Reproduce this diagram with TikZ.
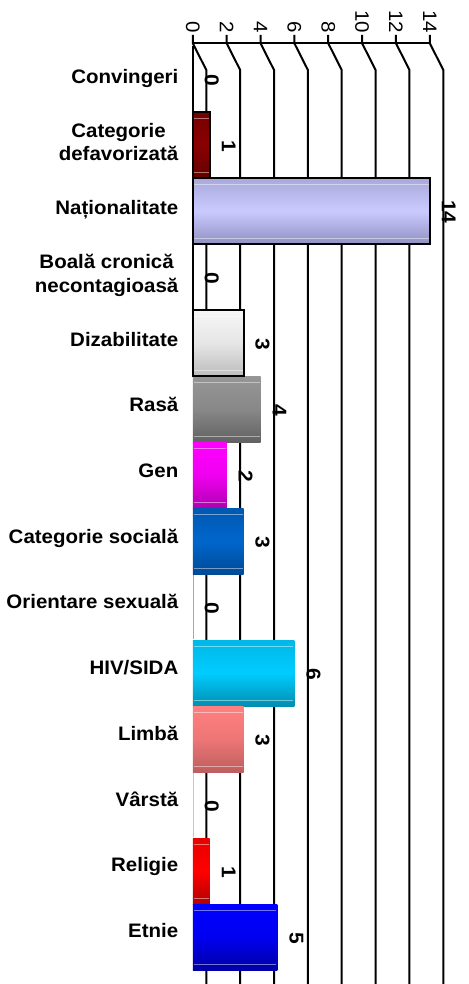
\documentclass[tikz,border=0pt]{standalone}
\usepackage{fontspec}
\setmainfont{Liberation Sans}[FakeStretch=1.05]
\begin{document}
\begin{tikzpicture}[x=1pt,y=-1pt,
  grid/.style={line width=2pt, black},
  lab/.style={font=\bfseries\fontsize{19.5}{23.5}\selectfont, inner sep=0pt},
  ticklab/.style={font=\fontsize{19.5}{20}\selectfont, inner sep=0pt, rotate=-90, anchor=east},
  val/.style={font=\bfseries\fontsize{20}{20}\selectfont, inner sep=0pt, rotate=-90},
  barb/.style={draw=black, line width=2pt},
  shd/.style n args={3}{shade, top color=#1, bottom color=#3, middle color=#2},
  hl/.style={white, opacity=0.45, line width=0.8pt},
  zeroblack/.style={black, line width=2pt},
]
\useasboundingbox (0,0) rectangle (468,984);
\def\xo{192.8}
\def\u{16.93}
\definecolor{cdefA}{HTML}{760000}\definecolor{cdefB}{HTML}{8A0000}\definecolor{cdefC}{HTML}{660000}
\definecolor{natA}{HTML}{A8A8DA}\definecolor{natB}{HTML}{CACAFF}\definecolor{natC}{HTML}{9090C2}
\definecolor{dizA}{HTML}{F6F6F6}\definecolor{dizB}{HTML}{E6E6E6}\definecolor{dizC}{HTML}{BCBCBC}
\definecolor{rasA}{HTML}{969696}\definecolor{rasB}{HTML}{888888}\definecolor{rasC}{HTML}{626262}
\definecolor{genA}{HTML}{FF00FF}\definecolor{genB}{HTML}{F000F0}\definecolor{genC}{HTML}{B000B0}
\definecolor{socA}{HTML}{0058B0}\definecolor{socB}{HTML}{0066CC}\definecolor{socC}{HTML}{004A96}
\definecolor{hivA}{HTML}{00B8E6}\definecolor{hivB}{HTML}{00CCFF}\definecolor{hivC}{HTML}{008FB0}
\definecolor{limA}{HTML}{FF8080}\definecolor{limB}{HTML}{EE7676}\definecolor{limC}{HTML}{BE5E5E}
\definecolor{relA}{HTML}{E80000}\definecolor{relB}{HTML}{FF0000}\definecolor{relC}{HTML}{B00000}
\definecolor{etnA}{HTML}{0000FF}\definecolor{etnB}{HTML}{0000F0}\definecolor{etnC}{HTML}{0000A6}
\definecolor{orient}{HTML}{D4A060}
\definecolor{varsta}{HTML}{D8D840}

% grid, ticks and axis
\foreach \k in {0,...,7}{
  \pgfmathsetmacro\gx{\xo+33.86*\k}
  \coordinate (t\k) at (\gx,35);
  \coordinate (a\k) at (\gx,43.3);
  \coordinate (s\k) at (\gx+13.5,70);
  \coordinate (e\k) at (\gx+13.5,984);
  \draw[grid] (t\k) -- (a\k) -- (s\k) -- (e\k);
  \pgfmathtruncatemacro\lbl{2*\k}
  \node[ticklab] (tl\k) at (\gx,33.5) {\lbl};
}
\draw[grid] (a0) -- (a7);

% bars: index / value / colour prefix
\foreach \i/\v/\c in {1/1/cdef,2/14/nat,4/3/diz,5/4/ras,6/2/gen,7/3/soc,9/6/hiv,10/3/lim,12/1/rel,13/5/etn}{
  \pgfmathsetmacro\top{46+66*\i}
  \pgfmathsetmacro\bot{112+66*\i}
  \pgfmathsetmacro\xe{\xo+\u*\v}
  \path[shd={\c A}{\c B}{\c C}] (\xo,\top) rectangle (\xe,\bot);
  \draw[hl] (\xo+1,\top+6) -- (\xe-1,\top+6);
  \draw[hl] (\xo+1,\bot-6) -- (\xe-1,\bot-6);
}
% bordered bars
\foreach \i/\v in {1/1,2/14,4/3}{
  \pgfmathsetmacro\top{46+66*\i}
  \pgfmathsetmacro\bot{112+66*\i}
  \pgfmathsetmacro\xe{\xo+\u*\v}
  \draw[barb] (\xo,\top) rectangle (\xe,\bot);
}
% zero bars
\draw[zeroblack] (\xo,46) -- (\xo,112);
\draw[zeroblack] (\xo,244) -- (\xo,310);
\draw[orient, line width=1pt] (\xo+0.5,575) -- (\xo+0.5,639);
\draw[varsta, line width=1pt] (\xo+0.5,773) -- (\xo+0.5,837);

% value labels
\foreach \i/\v in {0/0,1/1,2/14,3/0,4/3,5/4,6/2,7/3,8/0,9/6,10/3,11/0,12/1,13/5}{
  \pgfmathsetmacro\cy{80+66*\i}
  \pgfmathsetmacro\xv{\xo+\u*\v+19}
  \node[val] (v\i) at (\xv,\cy) {\v};
}

% category labels
\node[lab, anchor=base east] (c0) at (178.5,83.3) {Convingeri};
\node[lab, anchor=base east] (c1b) at (178.5,160.8) {defavorizată};
\node[lab, anchor=base] (c1a) at (c1b.base |- {(0,137.3)}) {Categorie};
\node[lab, anchor=base east] (c2) at (178.5,214.7) {Naționalitate};
\node[lab, anchor=base east] (c3b) at (178.5,292.1) {necontagioasă};
\node[lab, anchor=base] (c3a) at (c3b.base |- {(0,268.6)}) {Boală cronică};
\node[lab, anchor=base east] (c4) at (178.5,346.1) {Dizabilitate};
\node[lab, anchor=base east] (c5) at (178.5,411.8) {Rasă};
\node[lab, anchor=base east] (c6) at (178.5,477.5) {Gen};
\node[lab, anchor=base east] (c7) at (178.5,543.2) {Categorie socială};
\node[lab, anchor=base east] (c8) at (178.5,608.9) {Orientare sexuală};
\node[lab, anchor=base east] (c9) at (178.5,674.6) {HIV/SIDA};
\node[lab, anchor=base east] (c10) at (178.5,740.3) {Limbă};
\node[lab, anchor=base east] (c11) at (178.5,806.0) {Vârstă};
\node[lab, anchor=base east] (c12) at (178.5,871.7) {Religie};
\node[lab, anchor=base east] (c13) at (178.5,937.4) {Etnie};
\end{tikzpicture}
\end{document}
